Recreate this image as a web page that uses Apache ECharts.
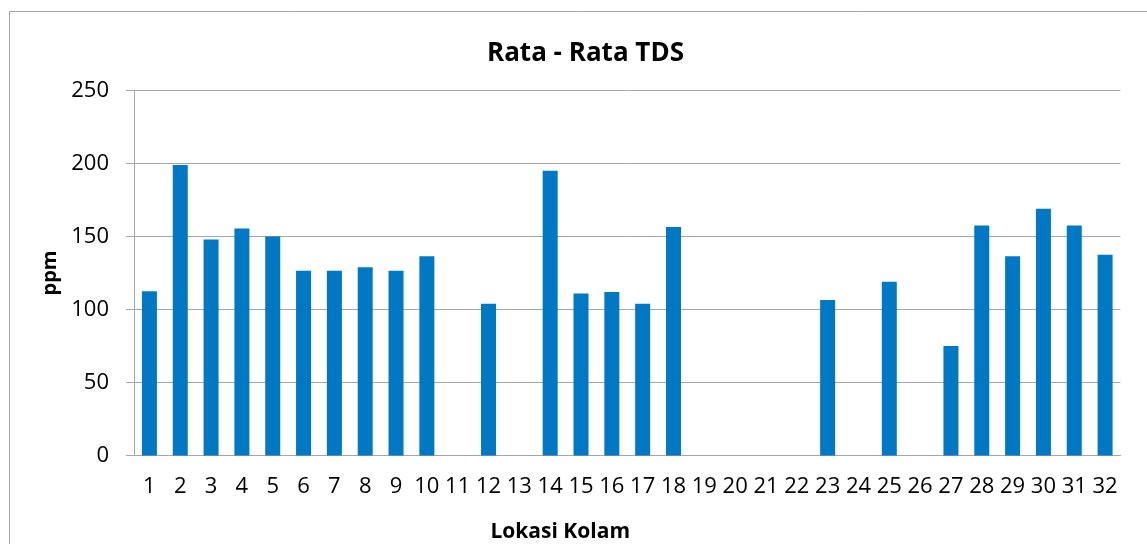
<!DOCTYPE html>
<html>
<head>
<meta charset="utf-8">
<script src="https://cdn.jsdelivr.net/npm/echarts@6/dist/echarts.min.js"></script>
<style>
html,body{margin:0;padding:0;background:#fff;}
#container{width:1147px;height:544px;}
</style>
</head>
<body>
<div id="container"></div>
<script>
// lokasi kolam 1..32
var categories = [];
for (var i = 1; i <= 32; i++) { categories.push(String(i)); }
// rata-rata TDS (ppm); kolam tanpa batang = 0
var tdsValues = [112.5, 199, 148, 155.5, 150, 126.5, 126.5, 129, 126.5, 136.5,
                 0, 104, 0, 195, 111, 112, 104, 156.5, 0, 0,
                 0, 0, 106.5, 0, 119, 0, 75, 157.5, 136.5, 169,
                 157.5, 137.5];
var yTicks = [0, 50, 100, 150, 200, 250];

var fontName = 'Open Sans';
var chart = echarts.init(document.getElementById('container'));
var option = {
	animation: false,
	title: {
		text: 'Rata - Rata TDS',
		left: 482,
		top: 36,
		textStyle: {fontFamily: fontName, fontSize: 26, fontWeight: 'bold', color: '#000'}
	},
	graphic: [{
		type: 'rect',
		shape: {x: 9.5, y: 11.5, width: 1200, height: 600},
		style: {fill: 'none', stroke: '#a6a6a6', lineWidth: 1},
		silent: true
	}],
	grid: {left: 134, right: 26.5, top: 90.5, bottom: 88.5, containLabel: false, outerBoundsMode: 'none'},
	xAxis: {
		type: 'category',
		data: categories,
		name: 'Lokasi Kolam',
		nameLocation: 'middle',
		nameGap: 66,
		nameTextStyle: {fontFamily: fontName, fontSize: 21, fontWeight: 'bold', color: '#000', padding: [0, 134, 0, 0]},
		axisLine: {lineStyle: {color: '#a6a6a6', width: 1}},
		axisTick: {show: false},
		axisLabel: {fontFamily: fontName, fontSize: 22, color: '#000', margin: 20, interval: 0}
	},
	yAxis: {
		type: 'value',
		min: yTicks[0],
		max: yTicks[yTicks.length - 1],
		interval: 50,
		name: 'ppm',
		nameLocation: 'middle',
		nameGap: 74,
		nameRotate: 90,
		nameTextStyle: {fontFamily: fontName, fontSize: 20, fontWeight: 'bold', color: '#000'},
		axisLine: {show: true, lineStyle: {color: '#a6a6a6', width: 1}},
		axisTick: {show: true, length: 8, lineStyle: {color: '#a6a6a6'}},
		splitLine: {lineStyle: {color: '#a6a6a6', width: 1}},
		axisLabel: {fontFamily: fontName, fontSize: 22, color: '#000', margin: 25}
	},
	series: [{
		name: 'TDS',
		type: 'bar',
		data: tdsValues,
		barWidth: 15,
		itemStyle: {color: '#0078C4'}
	}]
};
chart.setOption(option);
</script>
</body>
</html>
